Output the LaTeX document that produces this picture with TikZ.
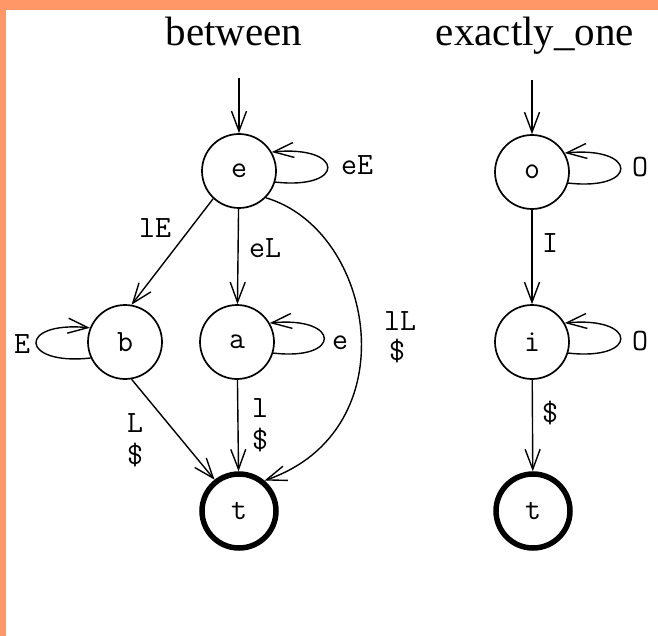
\documentclass[tikz,border=0pt]{standalone}
\usepackage{fontspec}
\setmainfont{Liberation Serif}
\usetikzlibrary{arrows.meta}
\definecolor{frameorange}{RGB}{255,152,102}
\newcommand\statefont{\ttfamily\fontsize{31}{33}\selectfont}
\newcommand\titlefont{\rmfamily\fontsize{41}{44}\selectfont}

\begin{document}
\begin{tikzpicture}[x=1pt,y=-1pt,
  state/.style={circle,draw,line width=1.7pt,minimum size=74pt,inner sep=0pt,font=\statefont},
  final/.style={state,line width=5.5pt},
  trans/.style={draw,line width=1.4pt,-{Straight Barb[length=20pt,width=15pt,line width=1.4pt]}},
  lbl/.style={anchor=base,inner sep=0pt,font=\statefont},
  title/.style={anchor=base,inner sep=0pt,font=\titlefont}]

  % page and frame
  \useasboundingbox (0,0) rectangle (658,636);
  \fill[white] (0,0) rectangle (658,636);
  \fill[frameorange] (0,0) rectangle (658,10);
  \fill[frameorange] (0,0) rectangle (6,636);

  % titles
  \node[title] (tb) at (234,46) {between};
  \node[title] (tx) at (535,46) {exactly\_one};

  % automaton "between"
  \node[state] (e) at (239,171) {e};
  \node[state] (b) at (125,342) {b};
  \node[state] (a) at (237,342) {a};
  \node[final] (t1) at (239,511) {t};
  \coordinate (s1) at (239,78);

  \draw[trans] (s1) -- (e);
  \draw[trans] (e) -- (a);
  \draw[trans] (e.-133) -- (b.80);
  \draw[trans] (b.-80) -- (t1.128);
  \draw[trans] (a) -- (t1);
  \draw[trans] (e.-45) .. controls (375,230) and (410,430) .. (t1.50);
  \draw[trans] (e.-17) .. controls +(71,8) and +(73,-7) .. (e.30);
  \draw[trans] (a.-17) .. controls +(69,8) and +(71,-7) .. (a.30);
  \draw[trans] (b.-155) .. controls +(-71,8) and +(-73,-7) .. (b.158);

  \node[lbl] (l1) at (357,175) {eE};
  \node[lbl] (l2) at (155,237) {lE};
  \node[lbl] (l3) at (265,258) {eL};
  \node[lbl] (l4) at (22,353) {E};
  \node[lbl] (l5) at (340,349) {e};
  \node[lbl] (l6) at (400,330) {lL};
  \node[lbl] (l6b) at (397,360) {\$};
  \node[lbl] (l7) at (135,432) {L};
  \node[lbl] (l7b) at (135,464) {\$};
  \node[lbl] (l8) at (260,417) {l};
  \node[lbl] (l8b) at (260,449) {\$};

  % automaton "exactly_one"
  \node[state] (o) at (532,172) {o};
  \node[state] (i) at (532,342) {i};
  \node[final] (t2) at (533,511) {t};
  \coordinate (s2) at (532,80);

  \draw[trans] (s2) -- (o);
  \draw[trans] (o) -- (i);
  \draw[trans] (i) -- (t2);
  \draw[trans] (o.-17) .. controls +(71,8) and +(73,-7) .. (o.30);
  \draw[trans] (i.-17) .. controls +(71,8) and +(73,-7) .. (i.30);

  \node[lbl] (m1) at (640,177) {O};
  \node[lbl] (m2) at (640,350) {O};
  \node[lbl] (m3) at (550,253) {I};
  \node[lbl] (m4) at (550,422) {\$};
\end{tikzpicture}
\end{document}
